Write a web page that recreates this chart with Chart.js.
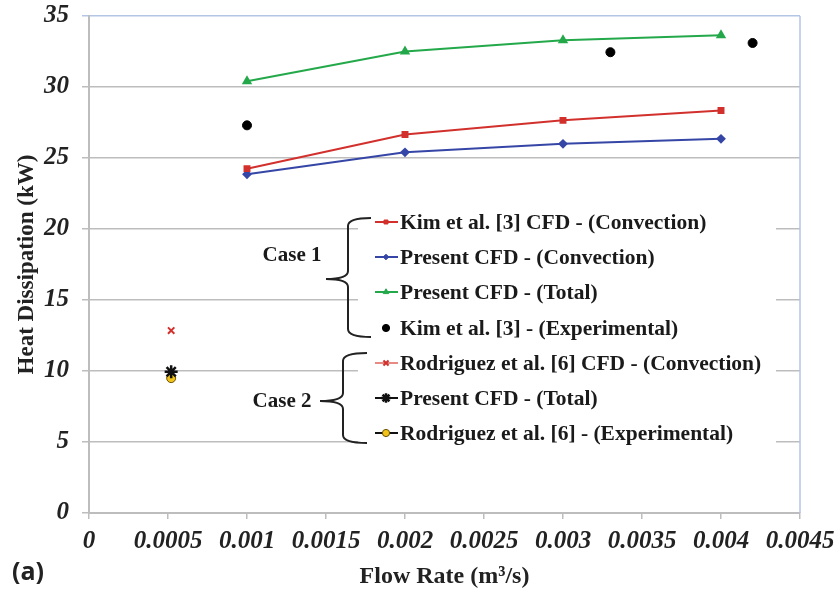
<!DOCTYPE html>
<html>
<head>
<meta charset="utf-8">
<script src="https://cdn.jsdelivr.net/npm/chart.js@4.4.1/dist/chart.umd.min.js"></script>
<style>
  html, body { margin: 0; padding: 0; background: #ffffff; }
  #grafico { display: block; }
</style>
</head>
<body>
<canvas id="grafico" width="836" height="589"></canvas>
<script>
// Case 1 - caudales y valores (kW)
const caudalCaso1 = [0.001, 0.002, 0.003, 0.004];
const kimCfdConveccion = [24.25, 26.65, 27.65, 28.35];
const presenteCfdConveccion = [23.85, 25.4, 26.0, 26.35];
const presenteCfdTotal = [30.4, 32.5, 33.3, 33.65];
const caudalKimExp = [0.001, 0.0033, 0.0042];
const kimExperimental = [27.3, 32.45, 33.1];

// Case 2
const caudalCaso2 = [0.00052];
const rodriguezCfdConveccion = [12.85];
const presenteCfdTotalCaso2 = [9.95];
const rodriguezExperimental = [9.5];

const nombresSeries = [
  "Kim et al. [3] CFD - (Convection)",
  "Present CFD - (Convection)",
  "Present CFD - (Total)",
  "Kim et al. [3] - (Experimental)",
  "Rodriguez et al. [6] CFD - (Convection)",
  "Present CFD - (Total)",
  "Rodriguez et al. [6] - (Experimental)"
];

function puntos(xs, ys) {
  return xs.map(function (x, i) { return { x: x, y: ys[i] }; });
}

const ROJO = "#d2302c";
const AZUL = "#3546a6";
const VERDE = "#23a84a";
const SERIF = "'Liberation Serif', 'Times New Roman', serif";

const datasets = [
  { label: nombresSeries[0], data: puntos(caudalCaso1, kimCfdConveccion), showLine: true,
    borderColor: ROJO, backgroundColor: ROJO, borderWidth: 2, pointStyle: "rect", pointRadius: 3.5 },
  { label: nombresSeries[1], data: puntos(caudalCaso1, presenteCfdConveccion), showLine: true,
    borderColor: AZUL, backgroundColor: AZUL, borderWidth: 2, pointStyle: "rectRot", pointRadius: 3.5 },
  { label: nombresSeries[2], data: puntos(caudalCaso1, presenteCfdTotal), showLine: true,
    borderColor: VERDE, backgroundColor: VERDE, borderWidth: 2, pointStyle: "triangle", pointRadius: 4 },
  { label: nombresSeries[3], data: puntos(caudalKimExp, kimExperimental), showLine: false,
    borderColor: "#000", backgroundColor: "#000", pointStyle: "circle", pointRadius: 4.5 },
  { label: nombresSeries[4], data: puntos(caudalCaso2, rodriguezCfdConveccion), showLine: false,
    borderColor: ROJO, backgroundColor: ROJO, pointStyle: "crossRot", pointRadius: 4.5, pointBorderWidth: 2 },
  { label: nombresSeries[5], data: puntos(caudalCaso2, presenteCfdTotalCaso2), showLine: false,
    borderColor: "#111", backgroundColor: "#111", pointStyle: "star", pointRadius: 6.5, pointBorderWidth: 2.5 },
  { label: nombresSeries[6], data: puntos(caudalCaso2, rodriguezExperimental), showLine: false,
    borderColor: "#6b5200", backgroundColor: "#f2c318", pointStyle: "circle", pointRadius: 4.5, pointBorderWidth: 1 }
];

// leyenda dibujada a mano, con las llaves de Case 1 / Case 2
const leyendaConLlaves = {
  id: "leyendaConLlaves",
  afterDraw: function (chart) {
    const ctx = chart.ctx;
    const area = chart.chartArea;
    ctx.save();

    // borde derecho azul claro
    ctx.strokeStyle = "#b4c5e6";
    ctx.lineWidth = 1.5;
    ctx.beginPath();
    ctx.moveTo(area.right, area.top);
    ctx.lineTo(area.right, area.bottom);
    ctx.stroke();

    // fondo blanco de la leyenda
    ctx.fillStyle = "#ffffff";
    ctx.fillRect(358, 206, 418, 246);

    const filas = [222, 257, 292, 328, 363, 398, 433];
    const colores = [ROJO, AZUL, VERDE, "#000", "#e88a84", "#111", "#111"];
    ctx.font = "bold 21.5px " + SERIF;
    ctx.textBaseline = "middle";
    ctx.textAlign = "left";
    filas.forEach(function (y, i) {
      const ds = chart.data.datasets[i];
      if (i !== 3) {
        ctx.strokeStyle = colores[i];
        ctx.lineWidth = 2;
        ctx.beginPath();
        ctx.moveTo(375, y);
        ctx.lineTo(398, y);
        ctx.stroke();
      }
      ctx.fillStyle = ds.backgroundColor;
      ctx.strokeStyle = ds.borderColor;
      ctx.lineWidth = ds.pointBorderWidth || 1;
      const r = Math.min(ds.pointRadius, 6) * 0.8;
      Chart.helpers.drawPoint(ctx, { pointStyle: ds.pointStyle, radius: r, rotation: 0, borderWidth: ctx.lineWidth }, 386, y);
      ctx.fillStyle = "#1a1a1a";
      ctx.fillText(ds.label, 400, y + 1);
    });

    // llaves
    ctx.strokeStyle = "#222";
    ctx.lineWidth = 2;
    function llave(x, yTop, yBot, yTip, xTip, xHook) {
      ctx.beginPath();
      ctx.moveTo(xHook, yTop);
      ctx.quadraticCurveTo(x, yTop, x, yTop + 8);
      ctx.lineTo(x, yTip - 8);
      ctx.quadraticCurveTo(x, yTip, xTip, yTip);
      ctx.quadraticCurveTo(x, yTip, x, yTip + 8);
      ctx.lineTo(x, yBot - 8);
      ctx.quadraticCurveTo(x, yBot, xHook, yBot);
      ctx.stroke();
    }
    llave(348, 218, 337, 279, 326, 371);
    llave(343, 353, 443, 401, 320, 367);

    ctx.fillStyle = "#1a1a1a";
    ctx.textAlign = "center";
    ctx.font = "bold 21px " + SERIF;
    ctx.fillText("Case 1", 292, 256);
    ctx.fillText("Case 2", 282, 402);

    // (a)
    ctx.font = "bold 25px 'Open Sans', Roboto, sans-serif";
    ctx.textAlign = "left";
    ctx.fillStyle = "#222";
    ctx.fillText("(a)", 12, 573);
    ctx.restore();
  }
};

new Chart(document.getElementById("grafico"), {
  type: "scatter",
  data: { datasets: datasets },
  options: {
    responsive: false,
    animation: false,
    devicePixelRatio: 1,
    layout: { padding: { top: 16, right: 36, left: 0, bottom: 0 } },
    plugins: { legend: { display: false }, tooltip: { enabled: false } },
    scales: {
      x: {
        type: "linear",
        min: 0,
        max: 0.0045,
        afterFit: function (scale) {
          scale.height = 76;
          scale.paddingLeft = 0;
          scale.paddingRight = 0;
        },
        ticks: {
          stepSize: 0.0005,
          padding: 8,
          color: "#222",
          font: { family: SERIF, size: 25, style: "italic", weight: "bold" },
          callback: function (v) { return String(Math.round(v * 10000) / 10000); }
        },
        grid: { drawOnChartArea: false, drawTicks: true, tickLength: 6, color: "#bdbdbd", lineWidth: 1.5 },
        border: { color: "#bdbdbd", width: 2 },
        title: {
          display: true,
          text: "Flow Rate (m³/s)",
          color: "#222",
          font: { family: SERIF, size: 24, weight: "bold", lineHeight: 1.0 },
          padding: { top: 0, bottom: 0 }
        }
      },
      y: {
        min: 0,
        max: 35,
        afterFit: function (scale) {
          scale.width = 89;
          scale.paddingTop = 0;
          scale.paddingBottom = 0;
        },
        ticks: {
          stepSize: 5,
          padding: 13,
          color: "#222",
          font: { family: SERIF, size: 25, style: "italic", weight: "bold" }
        },
        grid: {
          tickLength: 7,
          lineWidth: 1.5,
          color: function (c) { return c.tick && c.tick.value === 35 ? "#b4c5e6" : "#bdbdbd"; }
        },
        border: { color: "#bdbdbd", width: 2 },
        title: {
          display: true,
          text: "Heat Dissipation (kW)",
          color: "#222",
          font: { family: SERIF, size: 23, weight: "bold" },
          padding: { top: 13, bottom: 0 }
        }
      }
    }
  },
  plugins: [leyendaConLlaves]
});
</script>
</body>
</html>
